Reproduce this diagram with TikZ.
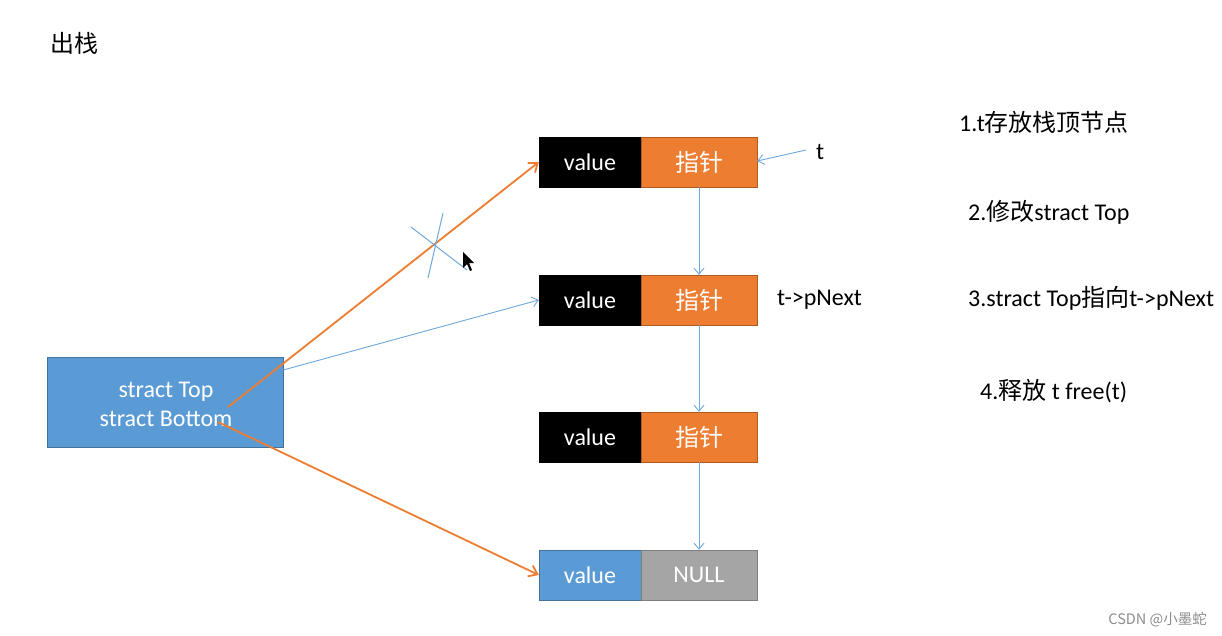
\documentclass[tikz,border=0pt]{standalone}
\usepackage{fontspec}
\setmainfont{Carlito}
\newfontfamily\cjk{Noto Sans CJK SC}
\usetikzlibrary{arrows.meta}
\definecolor{cblue}{HTML}{5B9BD5}
\definecolor{cline}{HTML}{6FA8DC}
\definecolor{cblueb}{HTML}{41719C}
\definecolor{corange}{HTML}{ED7D31}
\definecolor{coranb}{HTML}{AE5A21}
\definecolor{cgray}{HTML}{A5A5A5}
\definecolor{cgrayb}{HTML}{7F7F7F}
\tikzset{
  txt/.style={font=\fontsize{24}{28}\selectfont, inner sep=0pt},
  valbox/.style={draw=black, fill=black, minimum width=102pt, minimum height=50pt, inner sep=0pt, text=white, font=\fontsize{24}{28}\selectfont},
  ptrbox/.style={draw=coranb, fill=corange, minimum width=116pt, minimum height=50pt, inner sep=0pt, text=white, font=\fontsize{24}{28}\selectfont\cjk},
  bluearr/.style={draw=cline, line width=0.9pt, -{Straight Barb[length=6pt,width=10pt]}},
  orarr/.style={draw=corange, line width=1.8pt, -{Straight Barb[length=8pt,width=12pt]}},
}
\begin{document}
\begin{tikzpicture}[x=1pt,y=-1pt]
\useasboundingbox (0,0) rectangle (1222,636);
\fill[white] (0,0) rectangle (1222,636);

\node[txt, anchor=west] (title) at (50,43) {\cjk 出栈};

% main box
\node[draw=cblueb, fill=cblue, minimum width=236pt, minimum height=90pt, inner sep=0pt,
      text=white, align=center, font=\fontsize{24}{29}\selectfont] (main) at (165,402) {};
\node[inner sep=0pt, text=white, align=center, font=\fontsize{24}{29}\selectfont] (maintxt) at (166,404)
      {stract Top\\stract Bottom};

% rows
\node[valbox] (v1) at (590,162) {value};
\node[ptrbox] (p1) at (699,162) {指针};
\node[valbox] (v2) at (590,300) {value};
\node[ptrbox] (p2) at (699,300) {指针};
\node[valbox] (v3) at (590,437) {value};
\node[ptrbox] (p3) at (699,437) {指针};
\node[valbox, draw=cblueb, fill=cblue] (v4) at (590,575) {value};
\node[ptrbox, draw=cgrayb, fill=cgray, font=\fontsize{24}{28}\selectfont] (p4) at (699,575) {NULL};

\draw[bluearr] (p1.south) -- (p2.north);
\draw[bluearr] (p2.south) -- (p3.north);
\draw[bluearr] (p3.south) -- (p4.north);

% labels
\node[txt, anchor=west] (t) at (816,152) {t};
\coordinate (tstart) at (806,150);
\draw[bluearr] (tstart) -- (p1.east |- 0,161);
\node[txt, anchor=west] (tnext) at (777,300) {t->pNext};

% connectors from main
\coordinate (mtop) at (228,407);
\coordinate (mbot) at (218,422);
\draw[orarr] (mtop) -- (v1.west);
\draw[orarr] (mbot) -- (v4.west);
\draw[bluearr] (main.east |- 0,370) -- (v2.west);

% cross
\coordinate (c1a) at (443,213);
\coordinate (c1b) at (428,278);
\coordinate (c2a) at (411,227);
\coordinate (c2b) at (467,270);
\draw[cline, line width=1pt] (c1a) -- (c1b);
\draw[cline, line width=1pt] (c2a) -- (c2b);

% cursor
\fill[black] (463,252) -- (463,268) -- (467,264) -- (470,271) -- (472,270) -- (469,263) -- (474,263) -- cycle;

% right side steps
\node[txt, anchor=west] (s1) at (959,122) {1.t{\cjk 存放栈顶节点}};
\node[txt, anchor=west] (s2) at (968,212) {2.{\cjk 修改}stract Top};
\node[txt, anchor=west] (s3) at (968,298) {3.stract Top{\cjk 指向}t->pNext};
\node[txt, anchor=west] (s4) at (980,391) {4.{\cjk 释放} t free(t)};

% watermark
\node[anchor=east, inner sep=0pt, text=black!45, font=\fontsize{14.5}{17}\selectfont\cjk] (wm) at (1207,620) {CSDN @小墨蛇};
\end{tikzpicture}
\end{document}
